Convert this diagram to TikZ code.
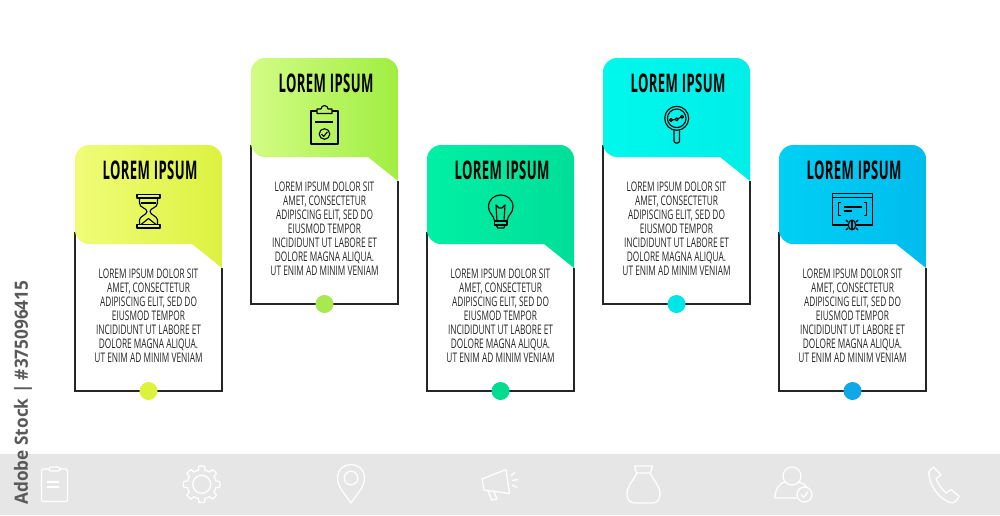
\documentclass[tikz,border=0pt]{standalone}
\usepackage{fontspec}
\usepackage{tikz}
\setmainfont{Open Sans}
\newfontfamily\condfont[FakeStretch=0.63]{Open Sans}
\newfontfamily\headfont[FakeStretch=0.51,LetterSpace=1.5]{Open Sans}
\newfontfamily\sidefont[FakeStretch=0.94]{Open Sans}
\definecolor{limeL}{HTML}{F0FC78}
\definecolor{limeR}{HTML}{DCF240}
\definecolor{limeD}{HTML}{DDF23C}
\definecolor{greenL}{HTML}{D2FC84}
\definecolor{greenR}{HTML}{A0EE42}
\definecolor{greenD}{HTML}{A8E850}
\definecolor{mintL}{HTML}{00F0A4}
\definecolor{mintR}{HTML}{00DE98}
\definecolor{mintD}{HTML}{00DC90}
\definecolor{aquaL}{HTML}{00F8EC}
\definecolor{aquaR}{HTML}{00EEE8}
\definecolor{aquaD}{HTML}{00E6E6}
\definecolor{skyL}{HTML}{00D0F4}
\definecolor{skyR}{HTML}{00BCEE}
\definecolor{skyD}{HTML}{10A8E6}
\definecolor{band}{HTML}{E6E6E6}

\begin{document}
\begin{tikzpicture}[
    x = 0.01cm, y = -0.01cm,
    cardline/.style = {draw = black!85, line width = 0.36pt},
    cardtitle/.style = {font = \headfont\bfseries\fontsize{7.3}{8}\selectfont,
      inner sep = 0pt},
    cardtext/.style = {font = \condfont\fontsize{3.75}{3.97}\selectfont,
      align = center, inner sep = 0pt, text = black!85},
    carddot/.style = {circle, inner sep = 0pt, minimum size = 0.18cm},
    icon/.style = {draw = black, line width = 0.32pt, line join = round},
    bandicon/.style = {draw = white, line width = 0.36pt, line join = round}
    ]
    \useasboundingbox (0, 0) rectangle (1000, 515);
    \fill [white] (0, 0) rectangle (1000, 515);
    \fill [band] (0, 454) rectangle (1000, 515);

    % first card
    \draw [cardline] (75, 232) -- (75, 391) -- (222, 391) -- (222, 268);
    \shade [left color = limeL, right color = limeR]
    (222, 268) [rounded corners = 0.14cm] -- (222, 145) -- (75, 145) -- (75, 244)
    [sharp corners] -- (192, 244) -- cycle;
    \node at (150, 170) [cardtitle, name = titleA] {LOREM IPSUM};
    \node at (148.5, 315.5) [cardtext, name = textA] {LOREM IPSUM DOLOR SIT\\
      AMET, CONSECTETUR\\ ADIPISCING ELIT, SED DO\\ EIUSMOD TEMPOR\\
      INCIDIDUNT UT LABORE ET\\ DOLORE MAGNA ALIQUA.\\ UT ENIM AD MINIM VENIAM};
    \node at (148.5, 391) [carddot, fill = limeD, name = dotA] {};
    \draw [icon] (137, 194.5) rectangle (160, 198);
    \draw [icon] (137, 224.5) rectangle (160, 228);
    \draw [icon] (139.5, 198) -- (139.5, 203) .. controls (139.5, 208) and (147, 208) .. (147, 211.5)
    .. controls (147, 215) and (139.5, 216) .. (139.5, 220) -- (139.5, 224.5);
    \draw [icon] (157.5, 198) -- (157.5, 203) .. controls (157.5, 208) and (150, 208) .. (150, 211.5)
    .. controls (150, 215) and (157.5, 216) .. (157.5, 220) -- (157.5, 224.5);
    \draw [icon] (141, 203) -- (156, 203);
    \draw [icon] (141, 224.5) -- (148.5, 218.5) -- (156, 224.5);

    % second card
    \draw [cardline] (251, 145) -- (251, 304) -- (398, 304) -- (398, 181);
    \shade [left color = greenL, right color = greenR]
    (398, 181) [rounded corners = 0.14cm] -- (398, 58) -- (251, 58) -- (251, 157)
    [sharp corners] -- (368, 157) -- cycle;
    \node at (326, 83) [cardtitle, name = titleB] {LOREM IPSUM};
    \node at (324.5, 228.5) [cardtext, name = textB] {LOREM IPSUM DOLOR SIT\\
      AMET, CONSECTETUR\\ ADIPISCING ELIT, SED DO\\ EIUSMOD TEMPOR\\
      INCIDIDUNT UT LABORE ET\\ DOLORE MAGNA ALIQUA.\\ UT ENIM AD MINIM VENIAM};
    \node at (324.5, 304) [carddot, fill = greenD, name = dotB] {};
    \draw [icon] (317, 111) -- (311, 111) -- (311, 144) -- (338, 144) -- (338, 111) -- (332, 111);
    \draw [icon] (317, 113.5) -- (317, 109) -- (321, 109) .. controls (321, 104.5) and (328, 104.5) .. (328, 109)
    -- (332, 109) -- (332, 113.5) -- cycle;
    \draw [icon] (315, 122) -- (333, 122);
    \draw [icon] (324.5, 134) circle (5.3);
    \draw [icon] (321.5, 134) -- (323.7, 136.5) -- (327.5, 131.8);

    % third card
    \draw [cardline] (427, 232) -- (427, 391) -- (574, 391) -- (574, 268);
    \shade [left color = mintL, right color = mintR]
    (574, 268) [rounded corners = 0.14cm] -- (574, 145) -- (427, 145) -- (427, 244)
    [sharp corners] -- (544, 244) -- cycle;
    \node at (502, 170) [cardtitle, name = titleC] {LOREM IPSUM};
    \node at (500.5, 315.5) [cardtext, name = textC] {LOREM IPSUM DOLOR SIT\\
      AMET, CONSECTETUR\\ ADIPISCING ELIT, SED DO\\ EIUSMOD TEMPOR\\
      INCIDIDUNT UT LABORE ET\\ DOLORE MAGNA ALIQUA.\\ UT ENIM AD MINIM VENIAM};
    \node at (500.5, 391) [carddot, fill = mintD, name = dotC] {};
    \draw [icon] (494.5, 221) .. controls (494, 215) and (488.5, 213.5) .. (488.5, 207)
    .. controls (488.5, 191) and (513, 191) .. (513, 207)
    .. controls (513, 213.5) and (507.5, 215) .. (507, 221) -- cycle;
    \draw [icon] (494.5, 221) rectangle (507, 225);
    \draw [icon] (496.5, 225) -- (497.5, 228) -- (504, 228) -- (505, 225);
    \draw [icon] (497, 221) -- (496, 205) -- (499, 208) -- (502, 208) -- (505, 205) -- (504, 221);

    % fourth card
    \draw [cardline] (603, 145) -- (603, 304) -- (750, 304) -- (750, 181);
    \shade [left color = aquaL, right color = aquaR]
    (750, 181) [rounded corners = 0.14cm] -- (750, 58) -- (603, 58) -- (603, 157)
    [sharp corners] -- (720, 157) -- cycle;
    \node at (678, 83) [cardtitle, name = titleD] {LOREM IPSUM};
    \node at (676.5, 228.5) [cardtext, name = textD] {LOREM IPSUM DOLOR SIT\\
      AMET, CONSECTETUR\\ ADIPISCING ELIT, SED DO\\ EIUSMOD TEMPOR\\
      INCIDIDUNT UT LABORE ET\\ DOLORE MAGNA ALIQUA.\\ UT ENIM AD MINIM VENIAM};
    \node at (676.5, 304) [carddot, fill = aquaD, name = dotD] {};
    \draw [icon] (676.7, 118.3) circle (12);
    \draw [icon] (676.7, 118.3) circle (9.3);
    \draw [icon, rounded corners = 0.02cm] (674, 130) -- (674, 143) -- (679.5, 143) -- (679.5, 130);
    \draw [icon] (671, 120) circle (1.5);
    \draw [icon] (676.7, 119.3) circle (1.5);
    \draw [icon] (682, 116.7) circle (1.5);
    \draw [icon] (672.5, 120) -- (675.2, 119.5);
    \draw [icon] (678.1, 118.6) -- (680.6, 117.4);

    % fifth card
    \draw [cardline] (779, 232) -- (779, 391) -- (926, 391) -- (926, 268);
    \shade [left color = skyL, right color = skyR]
    (926, 268) [rounded corners = 0.14cm] -- (926, 145) -- (779, 145) -- (779, 244)
    [sharp corners] -- (896, 244) -- cycle;
    \node at (854, 170) [cardtitle, name = titleE] {LOREM IPSUM};
    \node at (852.5, 315.5) [cardtext, name = textE] {LOREM IPSUM DOLOR SIT\\
      AMET, CONSECTETUR\\ ADIPISCING ELIT, SED DO\\ EIUSMOD TEMPOR\\
      INCIDIDUNT UT LABORE ET\\ DOLORE MAGNA ALIQUA.\\ UT ENIM AD MINIM VENIAM};
    \node at (852.5, 391) [carddot, fill = skyD, name = dotE] {};
    \draw [icon] (847, 225) -- (832.5, 225) -- (832.5, 193.5) -- (872.5, 193.5) -- (872.5, 225) -- (857, 225);
    \draw [icon] (832.5, 197.5) -- (872.5, 197.5);
    \draw [icon] (841, 202.5) -- (838.5, 202.5) -- (838.5, 215.5) -- (841, 215.5);
    \draw [icon] (864, 202.5) -- (866.5, 202.5) -- (866.5, 215.5) -- (864, 215.5);
    \draw [icon] (843.5, 207) -- (861.5, 207);
    \draw [icon] (843.5, 211) -- (851.5, 211);
    \draw [icon] (852, 225) ellipse (3.7 and 5);
    \draw [icon] (852, 220) -- (852, 230);
    \draw [icon] (848, 222) -- (846, 220);
    \draw [icon] (856, 222) -- (858, 220);
    \draw [icon] (848.3, 225) -- (845.5, 225);
    \draw [icon] (855.7, 225) -- (858.5, 225);
    \draw [icon] (848, 228) -- (846, 230);
    \draw [icon] (856, 228) -- (858, 230);

    % icons on the band
    \draw [bandicon, rounded corners = 0.02cm] (49, 469) -- (41.5, 469) -- (41.5, 501.5) -- (67.5, 501.5) -- (67.5, 469) -- (60, 469);
    \draw [bandicon, rounded corners = 0.02cm] (49, 467) rectangle (60, 471);
    \draw [bandicon] (47, 482) -- (59, 482);
    \draw [bandicon] (47, 487) -- (59, 487);

    \draw [bandicon] (201.7, 484.3) circle (9);
    \foreach \a in {0, 45, ..., 315}
    \draw [bandicon, shift = {(201.7, 484.3)}]
    (\a - 22.5 : 14.5) arc (\a - 22.5 : \a - 13 : 14.5) -- (\a - 9 : 18.3)
    arc (\a - 9 : \a + 9 : 18.3) -- (\a + 13 : 14.5) arc (\a + 13 : \a + 22.5 : 14.5);

    \draw [bandicon] (351, 503) .. controls (345, 494) and (337.5, 487) .. (337.5, 478)
    .. controls (337.5, 460) and (364.5, 460) .. (364.5, 478)
    .. controls (364.5, 487) and (357, 494) .. (351, 503) -- cycle;
    \draw [bandicon] (351, 478) circle (6.8);

    \draw [bandicon] (482, 479) -- (506, 469.5) -- (509.5, 493.5) -- (484, 490) -- cycle;
    \draw [bandicon] (488, 490.5) -- (491.5, 500) -- (497, 499) -- (494, 491.5);
    \draw [bandicon] (511, 476) -- (515, 472);
    \draw [bandicon] (512, 480.5) -- (518, 479.5);
    \draw [bandicon] (512, 485) -- (517, 487.5);

    \draw [bandicon] (634.5, 466) -- (652.5, 466) -- (650.5, 473) -- (636.5, 473) -- cycle;
    \draw [bandicon] (637, 473) .. controls (633, 481) and (627, 486) .. (627, 494)
    .. controls (627, 500) and (630, 503) .. (635, 503) -- (652, 503)
    .. controls (657, 503) and (660, 500) .. (660, 494)
    .. controls (660, 486) and (654, 481) .. (650, 473);

    \draw [bandicon] (792, 476) circle (9);
    \draw [bandicon] (785, 482) .. controls (778, 484) and (775, 490) .. (775, 498) -- (796.5, 498);
    \draw [bandicon] (799, 482) .. controls (802, 483) and (805, 484.5) .. (807, 487);
    \draw [bandicon] (804.5, 494.5) circle (7.5);
    \draw [bandicon] (801, 494.5) -- (803.5, 497.5) -- (808, 491.5);

    \draw [bandicon] (934, 467.5) .. controls (930, 469) and (928, 472) .. (929, 476)
    .. controls (931, 488) and (940, 499) .. (950, 502.5)
    .. controls (954, 504) and (958, 500) .. (959, 496)
    -- (951, 489.5) -- (946, 493)
    .. controls (941, 488) and (938, 484) .. (936, 478.5)
    -- (941, 475) -- cycle;

    % side text
    \node at (23, 392.5) [rotate = 90, text = black!65, font = \sidefont\bfseries\fontsize{5.2}{6}\selectfont,
      inner sep = 0pt, name = sidetext] {Adobe Stock | \#375096415};
  \end{tikzpicture}
\end{document}
